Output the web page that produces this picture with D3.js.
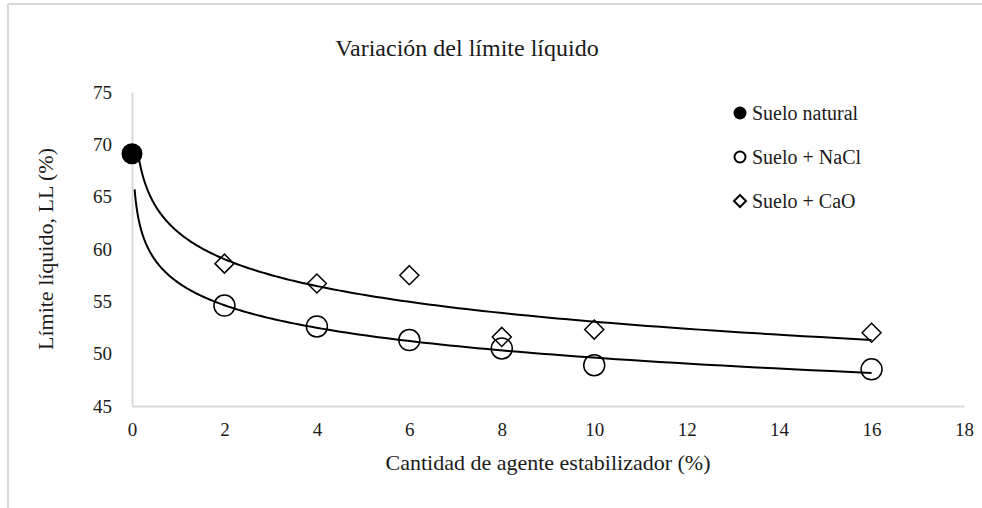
<!DOCTYPE html>
<meta charset="utf-8">
<script src="https://d3js.org/d3.v7.min.js"></script>
<style>
  body { margin: 0; background: #fff; }
  text { font-family: "Liberation Serif", "Times New Roman", serif; fill: #1a1a1a; }
</style>
<svg id="chart" width="982" height="508"></svg>
<script>
// data
var xValues = [2, 4, 6, 8, 10, 16];
var naclValues = [54.6, 52.6, 51.3, 50.5, 48.9, 48.5];
var caoValues = [58.6, 56.7, 57.5, 51.6, 52.3, 52.0];
var naturalPoint = [0, 69.1];
var xTicks = [0, 2, 4, 6, 8, 10, 12, 14, 16, 18];
var yTicks = [45, 50, 55, 60, 65, 70, 75];
// where each trendline starts (backward forecast) and ends
var trendStartCaO = 0.13, trendStartNaCl = 0.057, trendEnd = 16;

var svg = d3.select("#chart");
var margin = { top: 92, right: 18, bottom: 102, left: 132 };
var W = 982, H = 508;

var x = d3.scaleLinear().domain([0, 18]).range([margin.left, W - margin.right]);
var y = d3.scaleLinear().domain([45, 75]).range([H - margin.bottom, margin.top]);

// chart area border (only top and left are in the picture)
svg.append("line").attr("x1", 8).attr("x2", W).attr("y1", 4).attr("y2", 4)
  .attr("stroke", "#d9d9d9").attr("stroke-width", 2);
svg.append("line").attr("x1", 8).attr("x2", 8).attr("y1", 4).attr("y2", H)
  .attr("stroke", "#d9d9d9").attr("stroke-width", 2);

// axes
var xAxis = svg.append("g").attr("transform", "translate(0," + y(45) + ")")
  .call(d3.axisBottom(x).tickValues(xTicks).tickSize(0).tickPadding(17));
var yAxis = svg.append("g").attr("transform", "translate(" + x(0) + ",0)")
  .call(d3.axisLeft(y).tickValues(yTicks).tickSize(0).tickPadding(20));
[xAxis, yAxis].forEach(function(g) {
  g.select(".domain").attr("stroke", "#d9d9d9").attr("stroke-width", 2);
  g.selectAll("text").style("font-size", "19px").attr("fill", "#1a1a1a")
    .style("font-family", "Liberation Serif");
});

// log trendlines, least squares on ln(x)
function logFit(xs, ys) {
  var lx = xs.map(Math.log);
  var mx = d3.mean(lx), my = d3.mean(ys);
  var sxy = d3.sum(lx, function(v, i) { return (v - mx) * (ys[i] - my); });
  var sxx = d3.sum(lx, function(v) { return (v - mx) * (v - mx); });
  var b = sxy / sxx;
  return { a: my - b * mx, b: b };
}
function trendPath(fit, x0) {
  var pts = [];
  var n = 200;
  for (var i = 0; i <= n; i++) {
    var t = Math.exp(Math.log(x0) + (Math.log(trendEnd) - Math.log(x0)) * i / n);
    pts.push([t, fit.a + fit.b * Math.log(t)]);
  }
  return d3.line().x(function(d) { return x(d[0]); }).y(function(d) { return y(d[1]); })(pts);
}
var fitCaO = logFit(xValues, caoValues);
var fitNaCl = logFit(xValues, naclValues);
svg.append("path").attr("d", trendPath(fitCaO, trendStartCaO))
  .attr("fill", "none").attr("stroke", "#000").attr("stroke-width", 2);
svg.append("path").attr("d", trendPath(fitNaCl, trendStartNaCl))
  .attr("fill", "none").attr("stroke", "#000").attr("stroke-width", 2);

// markers
svg.append("g").selectAll("path")
  .data(xValues.map(function(v, i) { return [v, caoValues[i]]; }))
  .join("path")
  .attr("d", "M0,-9.5L9.5,0L0,9.5L-9.5,0Z")
  .attr("transform", function(d) { return "translate(" + x(d[0]) + "," + y(d[1]) + ")"; })
  .attr("fill", "none").attr("stroke", "#000").attr("stroke-width", 1.5);

svg.append("g").selectAll("circle")
  .data(xValues.map(function(v, i) { return [v, naclValues[i]]; }))
  .join("circle")
  .attr("cx", function(d) { return x(d[0]); })
  .attr("cy", function(d) { return y(d[1]); })
  .attr("r", 10.5)
  .attr("fill", "none").attr("stroke", "#000").attr("stroke-width", 1.5);

svg.append("circle")
  .attr("cx", x(naturalPoint[0])).attr("cy", y(naturalPoint[1]))
  .attr("r", 10.5).attr("fill", "#000");

// title
svg.append("text").attr("x", 467).attr("y", 56).attr("text-anchor", "middle")
  .style("font-size", "24px").text("Variación del límite líquido");

// axis titles
svg.append("text").attr("x", 548).attr("y", 470).attr("text-anchor", "middle")
  .style("font-size", "22px").text("Cantidad de agente estabilizador (%)");
svg.append("text").attr("transform", "translate(53,249) rotate(-90)")
  .attr("text-anchor", "middle")
  .style("font-size", "22px").text("Límite líquido, LL (%)");

// legend
var legendNames = ["Suelo natural", "Suelo + NaCl", "Suelo + CaO"];
var leg = svg.append("g").selectAll("g").data(legendNames).join("g")
  .attr("transform", function(d, i) { return "translate(740," + (113 + i * 44) + ")"; });
leg.append("text").attr("x", 12).attr("dy", "0.35em")
  .style("font-size", "20px").text(function(d) { return d; });
leg.each(function(d, i) {
  var g = d3.select(this);
  if (i === 0) g.append("circle").attr("r", 6.5).attr("fill", "#000");
  else if (i === 1) g.append("circle").attr("r", 5.5).attr("fill", "none")
    .attr("stroke", "#000").attr("stroke-width", 2);
  else g.append("path").attr("d", "M0,-6L6,0L0,6L-6,0Z").attr("fill", "none")
    .attr("stroke", "#000").attr("stroke-width", 2);
});
</script>
